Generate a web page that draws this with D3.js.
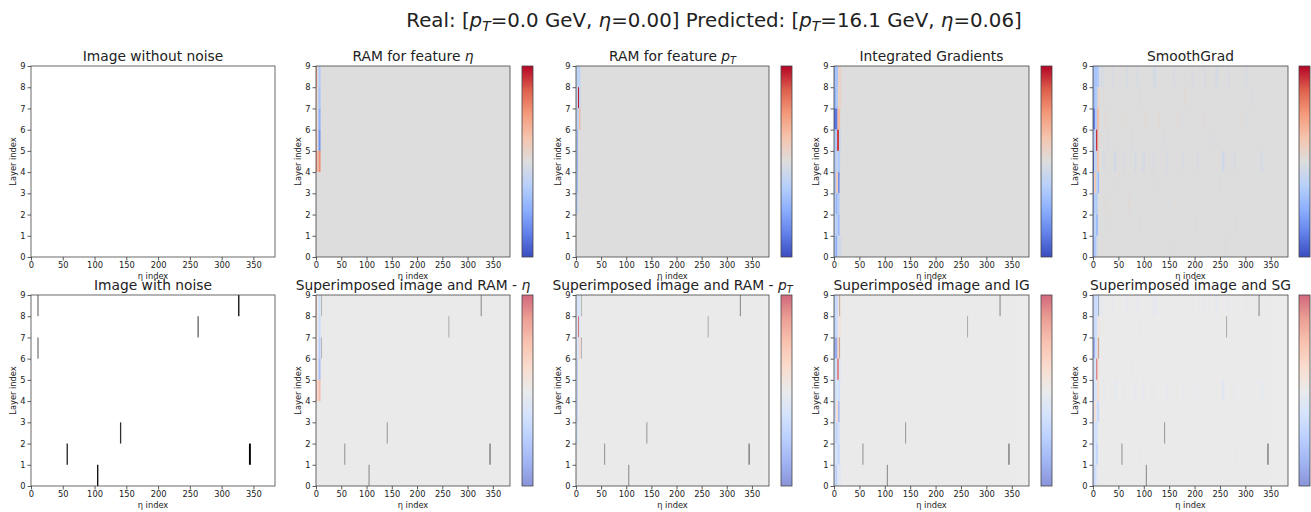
<!DOCTYPE html>
<html>
<head>
<meta charset="utf-8">
<script src="https://cdn.jsdelivr.net/npm/d3@7"></script>
<style>
  body { margin: 0; background: #fff; }
  text { font-family: "DejaVu Sans", sans-serif; fill: #222; }
</style>
</head>
<body>
<div id="chart"></div>
<script>
/* Attribution maps: 10 panels, 2 rows x 5 columns */

const width = 1311, height = 512;

// data (eta index x layer index)
const etaMax = 384;
const layerMax = 9;
const etaTicks = [0, 50, 100, 150, 200, 250, 300, 350];
const layerTicks = [0, 1, 2, 3, 4, 5, 6, 7, 8, 9];

// noise hits: [eta start, eta end, layer, intensity]
const noiseHits = [
  [10, 12, 8, 0.6], [10, 12, 6, 0.6], [56, 58, 1, 0.9], [104, 106, 0, 1.0],
  [140, 142, 2, 0.85], [262, 264, 7, 0.7], [326, 328, 8, 1.0], [343, 346, 1, 1.0]
];

// attribution cells: [eta start, eta end, layer, value in -1..1]
const ramEta = [
  [0, 2, 8, 0.5], [5, 9, 8, -0.3],
  [0, 2, 7, 0.3], [5, 9, 7, -0.35],
  [0, 2, 6, 0.25], [5, 9, 6, -0.5],
  [0, 2, 5, 0.3], [5, 9, 5, -0.65],
  [0, 3, 4, 0.55], [3, 5, 4, 0.2], [5, 9, 4, 0.55],
  [0, 2, 3, -0.05], [0, 2, 2, -0.05]
];

const ramPt = [
  [0, 9, 8, -0.2], [0, 3, 7, -0.2], [4, 6, 7, 0.95], [6, 9, 7, -0.2],
  [0, 9, 6, -0.2], [6, 9, 6, 0.3],
  [0, 2, 5, -0.2], [2, 4, 5, -0.45], [0, 2, 4, -0.2], [2, 4, 4, -0.45],
  [0, 2, 3, -0.2], [2, 4, 3, -0.4], [0, 4, 2, -0.2]
];

const intGrad = [
  [0, 3, 8, -0.5], [3, 8, 8, -0.35], [8, 14, 8, 0.12],
  [0, 5, 7, -0.45], [5, 8, 7, -0.3], [8, 14, 7, 0.12],
  [0, 7, 6, -0.8], [7, 12, 6, 0.3],
  [0, 6, 5, -0.3], [6, 10, 5, 0.85], [10, 13, 5, -0.2],
  [0, 5, 4, -0.3], [5, 8, 4, -0.2], [8, 12, 4, -0.3],
  [0, 4, 3, -0.35], [4, 8, 3, 0.2], [8, 11, 3, -0.7],
  [0, 4, 2, -0.3], [4, 7, 2, -0.45], [7, 11, 2, -0.3],
  [0, 3, 1, -0.3], [3, 8, 1, -0.25], [8, 11, 1, -0.45],
  [0, 3, 0, -0.35], [3, 6, 0, -0.5], [6, 9, 0, -0.2], [9, 14, 0, -0.1]
];

const smoothStrip = [
  [0, 3, 8, -0.45], [3, 9, 8, -0.35], [9, 12, 8, -0.3],
  [0, 4, 7, -0.4], [4, 9, 7, -0.3], [9, 13, 7, 0.1],
  [0, 4, 6, -0.75], [4, 8, 6, -0.3], [8, 12, 6, 0.3],
  [0, 3, 5, -0.4], [3, 6, 5, -0.2], [6, 9, 5, 0.9], [9, 12, 5, 0.15],
  [0, 2, 4, -0.85], [2, 8, 4, -0.2], [8, 12, 4, 0.25],
  [0, 2, 3, -0.6], [2, 6, 3, 0.2], [6, 9, 3, -0.2], [9, 12, 3, -0.4],
  [0, 2, 2, -0.55], [2, 6, 2, -0.25], [6, 9, 2, -0.3],
  [0, 2, 1, -0.45], [2, 6, 1, -0.2], [6, 10, 1, -0.4],
  [0, 2, 0, -0.5], [2, 6, 0, -0.3], [6, 9, 0, -0.15]
];

const smoothFaint = [
  [15, 20, 8, -0.06], [37, 40, 8, -0.05], [66, 69, 8, -0.06], [86, 89, 8, -0.05],
  [118, 125, 8, -0.06], [158, 161, 8, -0.05], [194, 197, 8, -0.05], [219, 222, 8, -0.05],
  [241, 246, 8, -0.06], [266, 269, 8, -0.05], [300, 304, 8, -0.04],
  [20, 23, 7, 0.03], [90, 93, 7, -0.03], [180, 183, 7, 0.03], [310, 313, 7, -0.03],
  [25, 28, 6, 0.04], [56, 59, 6, 0.035], [102, 105, 6, 0.03], [128, 131, 6, 0.035],
  [164, 167, 6, 0.03], [215, 218, 6, 0.035], [290, 293, 6, 0.025],
  [30, 33, 5, -0.04], [75, 78, 5, -0.03], [140, 143, 5, -0.035], [230, 233, 5, -0.03],
  [20, 23, 4, -0.06], [41, 46, 4, -0.07], [59, 62, 4, -0.05], [82, 85, 4, -0.06],
  [97, 102, 4, -0.06], [118, 121, 4, -0.05], [144, 147, 4, -0.05], [177, 180, 4, -0.05],
  [205, 208, 4, -0.05], [254, 259, 4, -0.1], [277, 280, 4, -0.05], [330, 335, 4, -0.06],
  [50, 53, 3, 0.025], [120, 123, 3, 0.025], [250, 253, 3, -0.03],
  [25, 28, 2, 0.03], [70, 73, 2, 0.03], [160, 163, 2, 0.025], [320, 323, 2, -0.025],
  [30, 33, 1, 0.025], [90, 93, 1, 0.025], [200, 203, 1, 0.03], [280, 283, 1, 0.025],
  [45, 48, 0, -0.025], [150, 153, 0, 0.025], [260, 263, 0, -0.025]
];

// matplotlib coolwarm stops
const coolwarmStops = ["#3b4cc0", "#6282ea", "#8db0fe", "#b8d0f9", "#dddddd",
                       "#f5c4ad", "#f49a7b", "#de604d", "#b40426"];
const color = d3.scaleLinear()
  .domain(d3.range(coolwarmStops.length).map(i => -1 + 2 * i / (coolwarmStops.length - 1)))
  .range(coolwarmStops)
  .interpolate(d3.interpolateRgb)
  .clamp(true);

const svg = d3.select("#chart")
  .append("svg")
  .attr("width", width)
  .attr("height", height);

const defs = svg.append("defs");
const grad = defs.append("linearGradient")
  .attr("id", "cw")
  .attr("x1", 0).attr("y1", 1).attr("x2", 0).attr("y2", 0);
coolwarmStops.forEach((c, i) => {
  grad.append("stop")
    .attr("offset", i / (coolwarmStops.length - 1))
    .attr("stop-color", c);
});

/* Layout */
const cols = [
  { l: 31, r: 275 },
  { l: 316, r: 510, cb: 522 },
  { l: 576, r: 769, cb: 781 },
  { l: 834, r: 1029, cb: 1041 },
  { l: 1093, r: 1288, cb: 1299 }
];
const rows = [{ t: 66, b: 257 }, { t: 295, b: 486 }];

const panels = [
  { row: 0, col: 0, title: [["Image without noise"]], kind: "blank" },
  { row: 0, col: 1, title: [["RAM for feature "], ["η", "i"]], cells: ramEta },
  { row: 0, col: 2, title: [["RAM for feature "], ["p", "i"], ["T", "sub"]], cells: ramPt },
  { row: 0, col: 3, title: [["Integrated Gradients"]], cells: intGrad },
  { row: 0, col: 4, title: [["SmoothGrad"]], cells: smoothFaint.concat(smoothStrip) },
  { row: 1, col: 0, title: [["Image with noise"]], kind: "noise" },
  { row: 1, col: 1, title: [["Superimposed image and RAM - "], ["η", "i"]], cells: ramEta, overlay: true },
  { row: 1, col: 2, title: [["Superimposed image and RAM - "], ["p", "i"], ["T", "sub"]], cells: ramPt, overlay: true },
  { row: 1, col: 3, title: [["Superimposed image and IG"]], cells: intGrad, overlay: true },
  { row: 1, col: 4, title: [["Superimposed image and SG"]], cells: smoothFaint.concat(smoothStrip), overlay: true }
];

// italic / subscript text parts, baseline restored after a subscript
function addRich(sel, parts) {
  let down = false;
  parts.forEach(([t, style]) => {
    const ts = sel.append("tspan").text(t);
    if (style === "i") ts.attr("font-style", "italic");
    if (style === "sub") {
      ts.attr("font-style", "italic").attr("font-size", "0.7em").attr("dy", "0.3em");
      down = true;
    } else if (down) {
      ts.attr("dy", "-0.21em");
      down = false;
    }
  });
}

panels.forEach(p => {
  const c = cols[p.col], r = rows[p.row];
  const x = d3.scaleLinear().domain([0, etaMax]).range([c.l, c.r]);
  const y = d3.scaleLinear().domain([0, layerMax]).range([r.b, r.t]);
  const g = svg.append("g");

  const cellRect = (sel, data, fill) => sel.selectAll(null)
    .data(data)
    .join("rect")
    .attr("x", d => x(d[0]))
    .attr("width", d => Math.max(0.8, x(d[1]) - x(d[0])))
    .attr("y", d => y(d[2] + 1))
    .attr("height", d => y(d[2]) - y(d[2] + 1))
    .attr("fill", fill);

  // white base
  g.append("rect")
    .attr("x", c.l).attr("y", r.t)
    .attr("width", c.r - c.l).attr("height", r.b - r.t)
    .attr("fill", "#fff");

  if (p.kind === "noise" || p.overlay) {
    cellRect(g, noiseHits, d => d3.interpolateGreys(d[3]));
  }

  if (p.cells) {
    const hm = g.append("g").attr("opacity", p.overlay ? 0.6 : 1);
    hm.append("rect")
      .attr("x", c.l).attr("y", r.t)
      .attr("width", c.r - c.l).attr("height", r.b - r.t)
      .attr("fill", color(0));
    cellRect(hm, p.cells, d => color(d[3]));

    // colorbar
    svg.append("rect")
      .attr("x", c.cb).attr("y", r.t)
      .attr("width", 11).attr("height", r.b - r.t)
      .attr("fill", "url(#cw)")
      .attr("opacity", p.overlay ? 0.6 : 1);
    svg.append("rect")
      .attr("x", c.cb).attr("y", r.t)
      .attr("width", 11).attr("height", r.b - r.t)
      .attr("fill", "none")
      .attr("stroke", "#444")
      .attr("stroke-width", 0.8);
  }

  // axes
  const xAxis = svg.append("g")
    .attr("transform", `translate(0,${r.b})`)
    .call(d3.axisBottom(x).tickValues(etaTicks).tickSize(3.5).tickPadding(2).tickSizeOuter(0));
  const yAxis = svg.append("g")
    .attr("transform", `translate(${c.l},0)`)
    .call(d3.axisLeft(y).tickValues(layerTicks).tickSize(3.5).tickPadding(2).tickSizeOuter(0));
  [xAxis, yAxis].forEach(a => {
    a.select(".domain").remove();
    a.selectAll("line").attr("stroke", "#333").attr("stroke-width", 0.8);
    a.selectAll("text").attr("font-size", 8.3).attr("font-family", "DejaVu Sans").attr("fill", "#222");
  });

  svg.append("rect")
    .attr("x", c.l).attr("y", r.t)
    .attr("width", c.r - c.l).attr("height", r.b - r.t)
    .attr("fill", "none")
    .attr("stroke", "#444")
    .attr("stroke-width", 0.8);

  // labels
  svg.append("text")
    .attr("text-anchor", "middle")
    .attr("x", (c.l + c.r) / 2)
    .attr("y", r.b + 22)
    .attr("font-size", 8.3)
    .text("η index");

  svg.append("text")
    .attr("text-anchor", "middle")
    .attr("transform", `translate(${c.l - 15},${(r.t + r.b) / 2}) rotate(-90)`)
    .attr("font-size", 8.3)
    .text("Layer index");

  const t = svg.append("text")
    .attr("text-anchor", "middle")
    .attr("x", (c.l + c.r) / 2)
    .attr("y", r.t - 5)
    .attr("font-size", 13.8);
  addRich(t, p.title);
});

/* Suptitle */
const sup = svg.append("text")
  .attr("text-anchor", "middle")
  .attr("x", 714)
  .attr("y", 27)
  .attr("font-size", 19.8);
addRich(sup, [["Real: ["], ["p", "i"], ["T", "sub"], ["=0.0 GeV, "], ["η", "i"],
  ["=0.00] Predicted: ["], ["p", "i"], ["T", "sub"], ["=16.1 GeV, "], ["η", "i"], ["=0.06]"]]);
</script>
</body>
</html>
